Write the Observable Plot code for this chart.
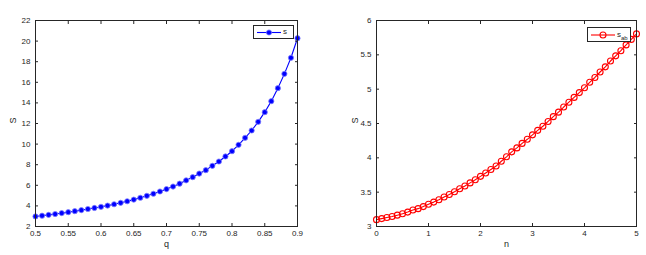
<!DOCTYPE html>
<html>
<head>
<meta charset="utf-8">
<script src="https://cdn.jsdelivr.net/npm/d3@7"></script>
<script src="https://cdn.jsdelivr.net/npm/@observablehq/plot@0.6"></script>
<style>
  html, body { margin: 0; padding: 0; background: #fff; }
  #wrap { position: relative; width: 646px; height: 255px; display: flex; }
  .legend { position: absolute; border: 1px solid #262626; background: #fff; box-sizing: border-box; }
  .legend svg { position: absolute; left: 0; top: 0; }
</style>
</head>
<body>
<div id="wrap"></div>
<script>
// Left panel data: s versus q
const qValues = [0.50,0.51,0.52,0.53,0.54,0.55,0.56,0.57,0.58,0.59,0.60,0.61,0.62,0.63,0.64,0.65,0.66,0.67,0.68,0.69,0.70,0.71,0.72,0.73,0.74,0.75,0.76,0.77,0.78,0.79,0.80,0.81,0.82,0.83,0.84,0.85,0.86,0.87,0.88,0.89,0.90];
const sValues = [2.98,3.05,3.13,3.21,3.30,3.39,3.49,3.59,3.70,3.80,3.91,4.03,4.16,4.30,4.45,4.61,4.79,4.98,5.18,5.40,5.63,5.88,6.16,6.48,6.79,7.14,7.47,7.89,8.31,8.80,9.31,9.93,10.61,11.32,12.16,13.10,14.17,15.43,16.82,18.38,20.28];
const qTicks = [0.5,0.55,0.6,0.65,0.7,0.75,0.8,0.85,0.9];
const sTicks = [2,4,6,8,10,12,14,16,18,20,22];

// Right panel data: s_ab versus n
const nValues = [0,0.1,0.2,0.3,0.4,0.5,0.6,0.7,0.8,0.9,1.0,1.1,1.2,1.3,1.4,1.5,1.6,1.7,1.8,1.9,2.0,2.1,2.2,2.3,2.4,2.5,2.6,2.7,2.8,2.9,3.0,3.1,3.2,3.3,3.4,3.5,3.6,3.7,3.8,3.9,4.0,4.1,4.2,4.3,4.4,4.5,4.6,4.7,4.8,4.9,5.0];
const sabValues = [3.10,3.115,3.13,3.146,3.165,3.185,3.21,3.24,3.26,3.29,3.325,3.355,3.39,3.43,3.465,3.505,3.55,3.59,3.635,3.68,3.73,3.78,3.83,3.88,3.95,4.015,4.087,4.145,4.21,4.27,4.335,4.40,4.46,4.53,4.60,4.665,4.74,4.81,4.88,4.95,5.02,5.10,5.17,5.25,5.325,5.41,5.485,5.56,5.645,5.725,5.805];
const nTicks = [0,1,2,3,4,5];
const sabTicks = [3,3.5,4,4.5,5,5.5,6];

const axisColor = "#262626";

function panel({xs, ys, xDomain, yDomain, xTicks, yTicks, xLabel, yLabel, color, kind, ml, mr, yLabelDx}) {
  const data = xs.map((x, i) => ({x, y: ys[i]}));
  const dotOpts = kind === "filled"
    ? {x: "x", y: "y", r: 2.6, fill: color, stroke: "#8080ff", strokeWidth: 0.8}
    : {x: "x", y: "y", r: 3, fill: "none", stroke: color, strokeWidth: 1.1};
  return Plot.plot({
    width: 323, height: 255,
    marginLeft: ml, marginRight: mr, marginTop: 20, marginBottom: 29,
    style: {fontFamily: "'Liberation Sans', Arial, sans-serif", fontSize: "8px", color: axisColor, background: "white"},
    x: {domain: xDomain},
    y: {domain: yDomain},
    marks: [
      Plot.line(data, {x: "x", y: "y", stroke: color, strokeWidth: 1.1}),
      Plot.dot(data, dotOpts),
      Plot.frame({stroke: axisColor, strokeWidth: 1}),
      Plot.axisX(xTicks, {anchor: "bottom", tickSize: -3, tickPadding: 7, label: null, tickFormat: d => String(d), stroke: axisColor}),
      Plot.axisX(xTicks, {anchor: "top", tickSize: -3, tickFormat: () => "", label: null, stroke: axisColor}),
      Plot.axisY(yTicks, {anchor: "left", tickSize: -3, tickPadding: 8, label: null, tickFormat: d => String(d), stroke: axisColor}),
      Plot.axisY(yTicks, {anchor: "right", tickSize: -3, tickFormat: () => "", label: null, stroke: axisColor}),
      Plot.text([xLabel], {frameAnchor: "bottom", dy: 20, text: d => d, fontSize: 9, fill: axisColor}),
      Plot.text([yLabel], {frameAnchor: "left", dx: yLabelDx, rotate: -90, text: d => d, fontSize: 9, fill: axisColor})
    ]
  });
}

const wrap = document.getElementById("wrap");
wrap.append(panel({
  xs: qValues, ys: sValues, xDomain: [0.5, 0.9], yDomain: [2, 22],
  xTicks: qTicks, yTicks: sTicks, xLabel: "q", yLabel: "S",
  color: "#0000ff", kind: "filled", ml: 35, mr: 26, yLabelDx: -22
}));
wrap.append(panel({
  xs: nValues, ys: sabValues, xDomain: [0, 5], yDomain: [3, 6],
  xTicks: nTicks, yTicks: sabTicks, xLabel: "n", yLabel: "S",
  color: "#ff0000", kind: "open", ml: 53, mr: 10, yLabelDx: -21
}));

// Legends
function legend(left, top, w, h, color, kind, labelHtml) {
  const div = document.createElement("div");
  div.className = "legend";
  Object.assign(div.style, {left: left + "px", top: top + "px", width: w + "px", height: h + "px"});
  const cy = h / 2 - 0.5;
  const marker = kind === "filled"
    ? `<circle cx="15" cy="${cy}" r="2.6" fill="${color}" stroke="#8080ff" stroke-width="0.8"/>`
    : `<circle cx="15" cy="${cy}" r="3" fill="none" stroke="${color}" stroke-width="1.1"/>`;
  div.innerHTML = `<svg width="${w}" height="${h}"><line x1="3" x2="27" y1="${cy}" y2="${cy}" stroke="${color}" stroke-width="1.1"/>${marker}</svg>` +
    `<div style="position:absolute;left:29px;top:0px;font:8px 'Liberation Sans', Arial, sans-serif;color:#262626;line-height:${h - 2}px;">${labelHtml}</div>`;
  wrap.append(div);
}
legend(253, 25, 41, 14, "#0000ff", "filled", "s");
legend(587, 27, 44, 15, "#ff0000", "open", "s<sub style=\"font-size:6px;vertical-align:-3px\">ab</sub>");
</script>
</body>
</html>
